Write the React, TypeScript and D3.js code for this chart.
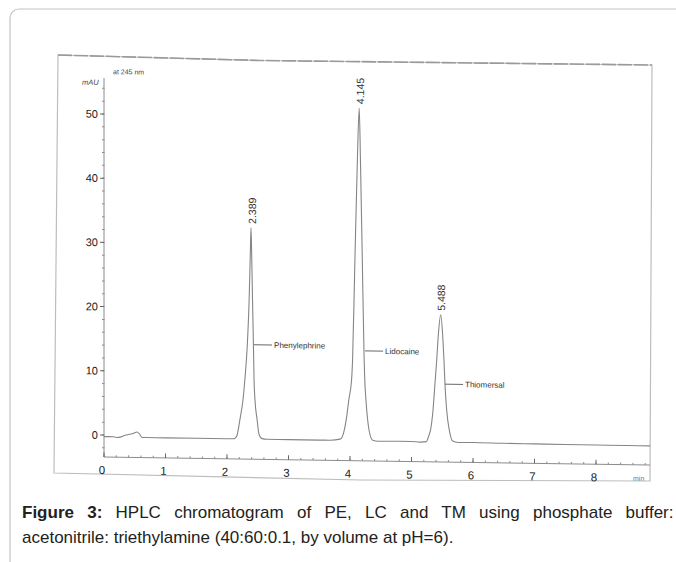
import { useEffect, useRef } from 'react';
import * as d3 from 'd3';

// chromatogram trace (minutes, mAU)
const traceTime = [
  0.0, 0.15, 0.2, 0.28, 0.34, 0.46, 0.54, 0.58, 0.62, 0.7, 1.0, 1.5, 2.0, 2.1,
  2.13, 2.16, 2.21, 2.26, 2.29, 2.33, 2.36, 2.38, 2.39, 2.4, 2.415, 2.43, 2.44, 2.455, 2.49, 2.52, 2.57, 2.65,
  3.0, 3.5, 3.67, 3.84, 3.9, 3.95, 3.98, 4.026, 4.042, 4.08, 4.12, 4.15, 4.17, 4.2, 4.23, 4.24, 4.26, 4.31, 4.37, 4.46,
  4.8, 5.0, 5.14, 5.24, 5.28, 5.31, 5.35, 5.38, 5.41, 5.436, 5.475, 5.507, 5.528, 5.545, 5.572, 5.615, 5.67, 5.76,
  6.0, 6.5, 7.0, 7.5, 8.0, 8.5, 8.88
];
const traceMAU = [
  -0.25, -0.25, -0.35, -0.25, 0.0, 0.25, 0.55, 0.2, -0.3, -0.3, -0.3, -0.3, -0.3, -0.3,
  -0.2, 0.15, 2.7, 5.8, 8.9, 14.3, 21.4, 29.0, 32.6, 29.0, 21.4, 14.3, 8.9, 5.8, 2.7, 0.5, -0.2, -0.3,
  -0.3, -0.3, -0.3, -0.1, 1.05, 3.7, 6.0, 9.2, 12.3, 27.9, 43.4, 51.5, 43.4, 27.9, 12.3, 9.2, 6.0, 1.35, -0.2, -0.35,
  -0.3, -0.3, -0.38, -0.3, 0.6, 1.55, 4.65, 8.55, 12.45, 16.3, 19.5, 16.3, 12.45, 8.55, 4.65, 1.55, -0.15, -0.35,
  -0.33, -0.38, -0.4, -0.42, -0.43, -0.45, -0.45
];

const peakTimes = [2.39, 4.15, 5.475];
const peakHeights = [32.6, 51.5, 19.5];
const peakLabels = ['2.389', '4.145', '5.488'];

const compoundNames = ['Phenylephrine', 'Lidocaine', 'Thiomersal'];
const leaderTimes = [2.44, 4.245, 5.545];
const leaderLevels = [14.4, 13.7, 8.7];

const xTicks = [0, 1, 2, 3, 4, 5, 6, 7, 8];
const yTicks = [0, 10, 20, 30, 40, 50];

const captionBold = 'Figure 3:';
const captionLine1 = 'HPLC chromatogram of PE, LC and TM using phosphate buffer:';
const captionLine2 = 'acetonitrile: triethylamine (40:60:0.1, by volume at pH=6).';

export default function App() {
  const svgRef = useRef<SVGSVGElement>(null);

  useEffect(() => {
    document.body.style.margin = '0';
    const svg = d3.select(svgRef.current);
    svg.selectAll('*').remove();

    const width = 676;
    const height = 562;
    svg.attr('width', width).attr('height', height);

    // figure frame
    svg.append('rect')
      .attr('x', 10).attr('y', 9)
      .attr('width', 720).attr('height', 620)
      .attr('rx', 9)
      .attr('fill', 'white')
      .attr('stroke', '#c4c4c4')
      .attr('stroke-width', 1.2);

    // scanned sheet outline (slightly crooked)
    svg.append('path')
      .attr('d', 'M58,55 L260,60.5 L652,65 L650,481 L360,480 L54,473 Z')
      .attr('fill', 'white')
      .attr('stroke', '#bdbdbd')
      .attr('stroke-width', 1.2);
    svg.append('path')
      .attr('d', 'M58,55 L260,60.5 L652,65')
      .attr('fill', 'none')
      .attr('stroke', '#9a9a9a')
      .attr('stroke-width', 1.6)
      .attr('stroke-dasharray', '14 2');

    const x = d3.scaleLinear().domain([0, 8.88]).range([104, 104 + 8.88 * 61.5]);
    const y = d3.scaleLinear().domain([0, 50]).range([435, 435 - 50 * 6.42]);

    // the scan tilts horizontally, verticals stay upright
    const k = 0.0147;
    const g = svg.append('g')
      .attr('transform', `matrix(1,${k},0,1,0,${-k * 104})`);

    const axisColor = '#8c8c8c';
    const fontFam = '"Liberation Sans", Arial, sans-serif';

    // y axis
    const yTop = y(55.6);
    const yBottom = 457;
    g.append('line')
      .attr('x1', x(0)).attr('x2', x(0))
      .attr('y1', yTop).attr('y2', yBottom)
      .attr('stroke', axisColor).attr('stroke-width', 1);

    const minorY = d3.range(-2, 56, 2);
    g.selectAll('.ymin')
      .data(minorY)
      .enter().append('line')
      .attr('x1', x(0) - 2).attr('x2', x(0) + 0.5)
      .attr('y1', d => y(d)).attr('y2', d => y(d))
      .attr('stroke', axisColor).attr('stroke-width', 1);

    g.selectAll('.ymaj')
      .data(yTicks)
      .enter().append('line')
      .attr('x1', x(0) - 4).attr('x2', x(0))
      .attr('y1', d => y(d)).attr('y2', d => y(d))
      .attr('stroke', '#666').attr('stroke-width', 1);

    g.selectAll('.ylab')
      .data(yTicks)
      .enter().append('text')
      .attr('x', x(0) - 6)
      .attr('y', d => y(d))
      .attr('dy', '0.35em')
      .attr('text-anchor', 'end')
      .attr('font-family', fontFam)
      .attr('font-size', 11)
      .attr('fill', '#222')
      .text(d => d);

    // x axis
    g.append('line')
      .attr('x1', x(0)).attr('x2', 650)
      .attr('y1', yBottom).attr('y2', yBottom)
      .attr('stroke', axisColor).attr('stroke-width', 1);

    const minorX = d3.range(0, 8.9, 0.2);
    g.selectAll('.xmin')
      .data(minorX)
      .enter().append('line')
      .attr('x1', d => x(d)).attr('x2', d => x(d))
      .attr('y1', yBottom).attr('y2', yBottom - 2)
      .attr('stroke', axisColor).attr('stroke-width', 1);

    g.selectAll('.xmaj')
      .data(xTicks)
      .enter().append('line')
      .attr('x1', d => x(d)).attr('x2', d => x(d))
      .attr('y1', yBottom).attr('y2', yBottom - 4.5)
      .attr('stroke', '#666').attr('stroke-width', 1);

    g.selectAll('.xlab')
      .data(xTicks)
      .enter().append('text')
      .attr('x', d => x(d) - 2)
      .attr('y', yBottom + 17)
      .attr('text-anchor', 'middle')
      .attr('font-family', fontFam)
      .attr('font-size', 11.5)
      .attr('fill', '#222')
      .text(d => d);

    g.append('text')
      .attr('x', 633).attr('y', yBottom + 16)
      .attr('font-family', fontFam)
      .attr('font-size', 7)
      .attr('fill', '#6a7890')
      .text('min');

    g.append('text')
      .attr('x', 82).attr('y', 85)
      .attr('font-family', fontFam)
      .attr('font-size', 7.5)
      .attr('font-style', 'italic')
      .attr('fill', '#444')
      .text('mAU');

    g.append('text')
      .attr('x', 113).attr('y', 74)
      .attr('font-family', fontFam)
      .attr('font-size', 7)
      .attr('fill', '#444')
      .text('at 245 nm');

    // chromatogram trace
    const pts: [number, number][] = traceTime.map((t, i) => [t, traceMAU[i]]);
    const line = d3.line<[number, number]>()
      .x(d => x(d[0]))
      .y(d => y(d[1]))
      .curve(d3.curveMonotoneX);

    g.append('path')
      .datum(pts)
      .attr('d', line)
      .attr('fill', 'none')
      .attr('stroke', '#858585')
      .attr('stroke-width', 1.1);

    // retention time labels
    g.selectAll('.rt')
      .data(peakTimes)
      .enter().append('text')
      .attr('transform', (d, i) => `translate(${x(d) + 1},${y(peakHeights[i]) - 4}) rotate(-90)`)
      .attr('dy', '0.35em')
      .attr('font-family', fontFam)
      .attr('font-size', 10.5)
      .attr('fill', '#333')
      .text((d, i) => peakLabels[i]);

    // compound leaders
    g.selectAll('.leader')
      .data(leaderTimes)
      .enter().append('line')
      .attr('x1', d => x(d)).attr('x2', d => x(d) + 18)
      .attr('y1', (d, i) => y(leaderLevels[i])).attr('y2', (d, i) => y(leaderLevels[i]))
      .attr('stroke', '#555').attr('stroke-width', 0.9);

    g.selectAll('.cname')
      .data(compoundNames)
      .enter().append('text')
      .attr('x', (d, i) => x(leaderTimes[i]) + 20)
      .attr('y', (d, i) => y(leaderLevels[i]))
      .attr('dy', '0.35em')
      .attr('font-family', fontFam)
      .attr('font-size', 8)
      .attr('fill', '#333')
      .text(d => d);

    // caption, first line justified to the box width
    const cap = svg.append('text')
      .attr('x', 22).attr('y', 518)
      .attr('font-family', fontFam)
      .attr('font-size', 17)
      .attr('fill', '#222');
    cap.append('tspan').attr('font-weight', 'bold').text(captionBold);
    cap.append('tspan').text(' ' + captionLine1);
    const natural = (cap.node() as SVGTextElement).getComputedTextLength();
    const gaps = captionLine1.split(' ').length;
    const extra = Math.max(0, (665 - 22 - natural) / gaps);
    cap.attr('word-spacing', extra);

    svg.append('text')
      .attr('x', 22).attr('y', 543)
      .attr('font-family', fontFam)
      .attr('font-size', 17)
      .attr('fill', '#222')
      .text(captionLine2);
  }, []);

  return <svg ref={svgRef} style={{ display: 'block' }} />;
}
